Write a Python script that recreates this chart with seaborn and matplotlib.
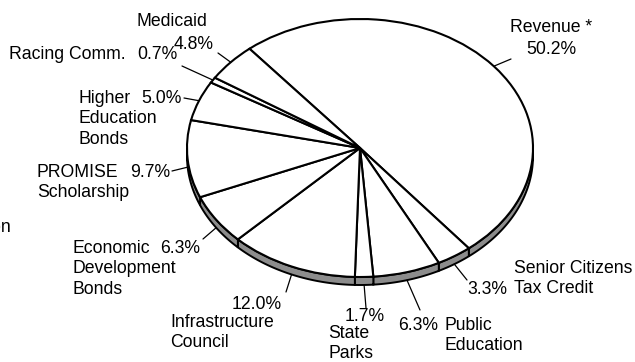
import numpy as np
import matplotlib
matplotlib.use("Agg")
import matplotlib.pyplot as plt
import seaborn as sns

# Lottery revenue distribution (percent of total), clockwise from the top
categories = ["Revenue *", "Senior Citizens\nTax Credit", "Public\nEducation", "State\nParks",
              "Infrastructure\nCouncil", "Economic\nDevelopment\nBonds", "PROMISE\nScholarship",
              "Higher\nEducation\nBonds", "Racing Comm.", "Medicaid"]
shares = [50.2, 3.3, 6.3, 1.7, 12.0, 6.3, 9.7, 5.0, 0.7, 4.8]

sns.set_theme(style="white")
plt.rcParams["font.family"] = ["Liberation Sans", "DejaVu Sans"]

W, H = 635, 362
fig = plt.figure(figsize=(W / 100, H / 100), dpi=100)
ax = fig.add_axes([0, 0, 1, 1])

# Ellipse geometry in pixels: centre, radii and side depth
cx, cy, rx, ry, depth = 360.0, 148.0, 173.0, 129.0, 8.0
d = depth / ry

wedges, _ = ax.pie(shares, startangle=129.7, counterclock=False, radius=1.0,
                   colors=["white"] * len(shares),
                   wedgeprops=dict(edgecolor="black", linewidth=1.5))
for w in wedges:
    w.set_zorder(3)

# Side wall for the front (lower) half of each wedge
for w in wedges:
    t1, t2 = w.theta1 % 360, w.theta2 % 360
    if t2 <= t1:
        t2 += 360
    for base in (0, 360):
        a, b = max(t1, 180 + base), min(t2, 360 + base)
        if b > a:
            t = np.radians(np.linspace(a, b, 60))
            xs = np.concatenate([np.cos(t), np.cos(t[::-1])])
            ys = np.concatenate([np.sin(t), np.sin(t[::-1]) - d])
            ax.fill(xs, ys, facecolor="#8c8c8c", edgecolor="black", linewidth=1.4, zorder=2)

ax.set_aspect("auto")
ax.set_xlim((0 - cx) / rx, (W - cx) / rx)
ax.set_ylim((cy - H) / ry, (cy - 0) / ry)
ax.axis("off")

fs = 12.7
tf = fig.transFigure


def px(x, y):
    return x / W, 1 - y / H


def put(x, y, s, ha="left", va="center", **kw):
    fig.text(*px(x, y + 1.5), s, ha=ha, va=va, fontsize=fs, color="black",
             transform=tf, linespacing=1.0, **kw)


# name anchor, percent anchor, leader end (pixels)
layout = {
    "Revenue *": dict(name=(551, 26, "center"), pct=(551, 48, "center"), end=(511, 59)),
    "Medicaid": dict(name=(172, 20, "center"), pct=(194, 43, "center"), end=(218, 53)),
    "Racing Comm.": dict(name=(9, 53, "left"), pct=(177, 53, "right"), end=(182, 66)),
    "Higher\nEducation\nBonds": dict(name=(79, 97, "left"), pct=(182, 97, "right"), end=(184, 98)),
    "PROMISE\nScholarship": dict(name=(37, 171, "left"), pct=(170, 171, "right"), end=(172, 171)),
    "Economic\nDevelopment\nBonds": dict(name=(73, 247, "left"), pct=(200, 247, "right"), end=(203, 239)),
    "Infrastructure\nCouncil": dict(name=(170, 321, "left"), pct=(282, 303, "right"), end=(286, 292)),
    "State\nParks": dict(name=(328, 332, "left"), pct=(365, 315, "center"), end=(366, 308)),
    "Public\nEducation": dict(name=(445, 324, "left"), pct=(438, 324, "right"), end=(420, 310)),
    "Senior Citizens\nTax Credit": dict(name=(514, 267, "left"), pct=(507, 288, "right"), end=(467, 280)),
}

line_h = 20.3
for w, cat, val in zip(wedges, categories, shares):
    L = layout[cat]
    lines = cat.split("\n")
    nx, ny, nha = L["name"]
    for i, ln in enumerate(lines):
        put(nx, ny + i * line_h, ln, ha=nha)
    pxx, pyy, pha = L["pct"]
    put(pxx, pyy, f"{val:.1f}%", ha=pha)
    # leader line from the rim at the wedge's mid angle
    mid = np.radians((w.theta1 + w.theta2) / 2)
    sx = cx + rx * np.cos(mid)
    sy = cy - ry * np.sin(mid)
    if np.sin(mid) < 0:
        sy += depth
    ex, ey = L["end"]
    fig.add_artist(plt.Line2D([sx / W, ex / W], [1 - sy / H, 1 - ey / H],
                              color="black", linewidth=0.9, transform=tf))

# label of an entry that runs past the left edge
put(12, 226, "Administration", ha="right")

fig.savefig("out.png", dpi=100)
